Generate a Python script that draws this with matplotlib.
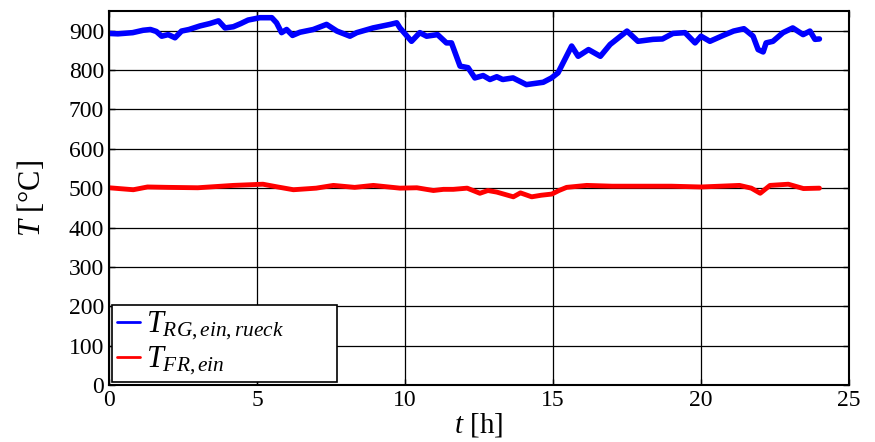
import matplotlib
matplotlib.use("Agg")
import matplotlib.pyplot as plt

plt.rcParams['font.family'] = ['Liberation Serif', 'DejaVu Serif']
plt.rcParams['mathtext.fontset'] = 'custom'
plt.rcParams['mathtext.rm'] = 'Liberation Serif'
plt.rcParams['mathtext.it'] = 'Liberation Serif:italic'

# data
t_blue = [0.0, 0.3, 0.8, 1.15, 1.4, 1.6, 1.78, 2.0, 2.23, 2.45, 2.7, 3.07, 3.4, 3.7,
          3.92, 4.2, 4.45, 4.7, 5.1, 5.5, 5.66, 5.83, 6.0, 6.2, 6.45, 6.9, 7.35, 7.7,
          8.14, 8.37, 8.92, 9.5, 9.72, 9.83, 10.22, 10.5, 10.73, 11.1, 11.4, 11.57,
          11.86, 12.13, 12.36, 12.64, 12.87, 13.1, 13.3, 13.65, 14.1, 14.67, 14.95,
          15.17, 15.4, 15.63, 15.85, 16.2, 16.6, 16.93, 17.5, 17.87, 18.38, 18.7,
          19.05, 19.46, 19.8, 20.0, 20.3, 20.75, 21.1, 21.45, 21.76, 21.93, 22.1,
          22.2, 22.43, 22.77, 23.1, 23.45, 23.68, 23.85, 24.0]
T_rg = [893, 892, 895, 901, 903, 898, 886, 890, 882, 899, 903, 912, 918, 925,
        907, 910, 918, 927, 933, 933, 920, 895, 903, 888, 896, 903, 916, 899,
        886, 895, 907, 916, 920, 907, 873, 895, 886, 890, 869, 869,
        810, 806, 780, 786, 776, 783, 776, 780, 763, 769, 780,
        793, 827, 861, 835, 852, 835, 865, 899, 873, 878, 879,
        893, 895, 869, 886, 873, 888, 899, 905, 886, 852, 846,
        869, 873, 895, 907, 890, 899, 878, 879]

t_red = [0.0, 0.82, 1.3, 2.0, 3.0, 4.2, 5.2, 5.7, 6.23, 7.0, 7.58, 8.3, 8.93, 9.83,
         10.4, 10.96, 11.3, 11.63, 12.1, 12.53, 12.8, 13.1, 13.66, 13.9, 14.28, 14.6,
         14.96, 15.2, 15.46, 16.14, 17.0, 17.6, 19.0, 20.0, 21.3, 21.7, 22.0, 22.33,
         22.95, 23.46, 24.0]
T_fr = [501, 496, 503, 502, 501, 507, 510, 503, 496, 500, 507, 502, 507, 500,
        501, 494, 497, 497, 500, 487, 494, 490, 478, 488, 478, 482,
        485, 494, 502, 507, 505, 505, 505, 503, 507, 500, 487, 507,
        510, 499, 500]

x_ticks = [0, 5, 10, 15, 20, 25]
y_ticks = [0, 100, 200, 300, 400, 500, 600, 700, 800, 900]

fig = plt.figure(figsize=(8.75, 4.42), dpi=100)
ax = fig.add_axes([109/875, 1-385/442, (849-109)/875, (385-11)/442])

ax.plot(t_blue, T_rg, color='#0000ff', lw=4, label=r'$T_{RG,ein,rueck}$',
        solid_joinstyle='round', solid_capstyle='round')
ax.plot(t_red, T_fr, color='#ff0000', lw=3.5, label=r'$T_{FR,ein}$',
        solid_joinstyle='round', solid_capstyle='round')

ax.set_xlim(0, 25)
ax.set_ylim(0, 950)
ax.set_xticks(x_ticks)
ax.set_yticks(y_ticks)
ax.tick_params(direction='in', top=True, right=True, labelsize=17, length=4, width=1)
ax.grid(True, color='black', lw=0.9)
for s in ax.spines.values():
    s.set_linewidth(1.5)

ax.set_xlabel(r'$t$ [h]', fontsize=21, labelpad=0)
ax.set_ylabel(r'$T$ [°C]', fontsize=22, labelpad=16)

leg = ax.legend(loc='lower left', bbox_to_anchor=(3/740, 3/374, 225/740, 79/374),
                mode='expand', fontsize=22, handlelength=0.75, handletextpad=0.2,
                borderaxespad=0, borderpad=0.15, labelspacing=0.1,
                fancybox=False, framealpha=1, edgecolor='black')
leg.get_frame().set_linewidth(1.2)
for line in leg.get_lines():
    line.set_linewidth(2)

fig.savefig('out.png', dpi=100)
